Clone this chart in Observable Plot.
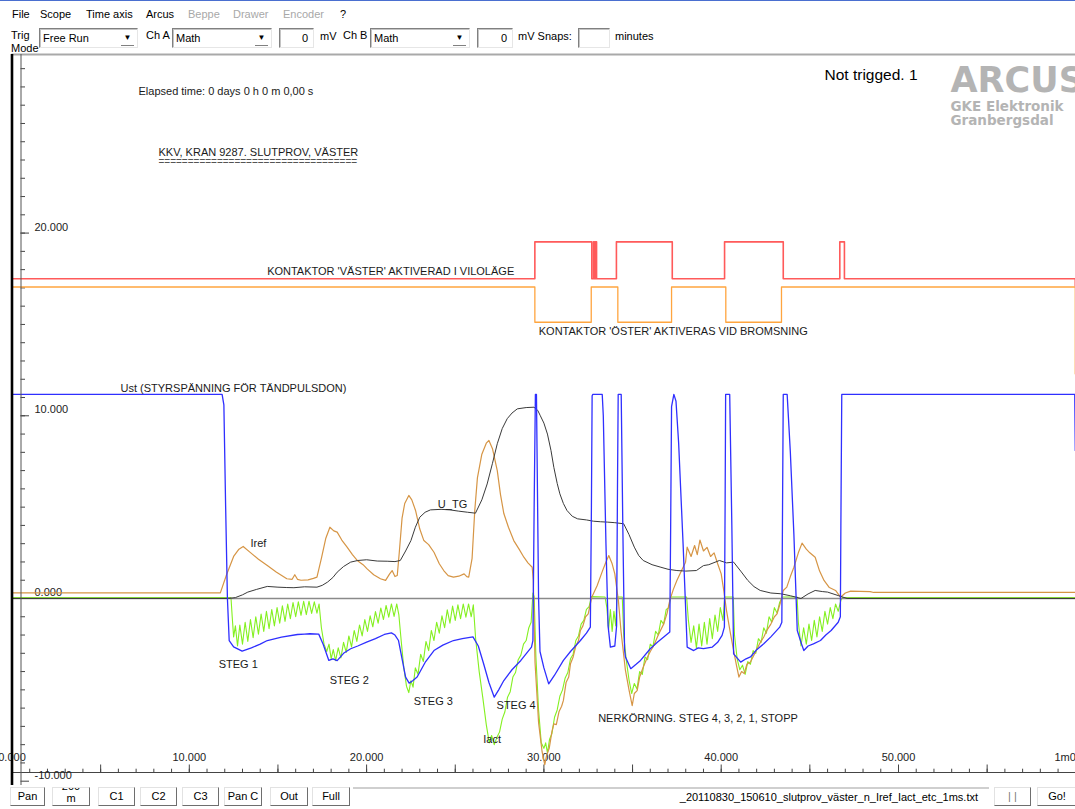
<!DOCTYPE html>
<html><head><meta charset="utf-8">
<script src="https://cdn.jsdelivr.net/npm/d3@7"></script>
<script src="https://cdn.jsdelivr.net/npm/@observablehq/plot@0.6"></script>
<style>
html,body{margin:0;padding:0;background:#fff}
body{width:1075px;height:809px;overflow:hidden;font-family:"Liberation Sans",Arial,sans-serif;font-size:11px;color:#000;position:relative}
#bar{position:relative;height:52px;overflow:hidden;border-top:1px solid #4a6fd0;box-sizing:border-box}
.t{position:absolute;white-space:nowrap;line-height:13px}
.dis{color:#a8a8a8}
.box{position:absolute;box-sizing:border-box;top:27px;height:20px;border-top:1px solid #808080;border-left:1px solid #808080;border-bottom:1px solid #e6e6e6;border-right:1px solid #e6e6e6;box-shadow:inset 1px 1px 0 #c4c4c4;background:#fff;line-height:18px;padding-left:3px;white-space:nowrap}
.arr{position:absolute;right:3px;top:2px;width:13px;height:14px;font-size:8px;text-align:center;line-height:14px;border-bottom:1px solid #808080;color:#000}
.num{text-align:right;padding-right:5px;padding-left:0}
#chart{height:735px;position:relative}
#chart svg{display:block}
#foot{position:relative;height:22px;overflow:hidden}
.btn{position:absolute;top:0;height:19px;box-sizing:border-box;border-top:1px solid #e2e2e2;border-left:1px solid #e2e2e2;border-right:1px solid #6e6e6e;border-bottom:1px solid #6e6e6e;text-align:center;line-height:17px;background:#fff;overflow:hidden;white-space:nowrap}
</style></head>
<body>
<div id="bar">
  <span class="t" style="left:12px;top:7px">File</span>
  <span class="t" style="left:40px;top:7px">Scope</span>
  <span class="t" style="left:86px;top:7px">Time axis</span>
  <span class="t" style="left:146px;top:7px">Arcus</span>
  <span class="t dis" style="left:188px;top:7px">Beppe</span>
  <span class="t dis" style="left:233px;top:7px">Drawer</span>
  <span class="t dis" style="left:283px;top:7px">Encoder</span>
  <span class="t" style="left:340px;top:7px">?</span>
  <span class="t" style="left:11px;top:28px">Trig</span>
  <span class="t" style="left:11px;top:41px">Mode</span>
  <div class="box" style="left:39px;width:99px">Free Run<span class="arr">▼</span></div>
  <span class="t" style="left:146px;top:28px">Ch A</span>
  <div class="box" style="left:172px;width:100px">Math<span class="arr">▼</span></div>
  <div class="box num" style="left:279px;width:35px">0</div>
  <span class="t" style="left:320px;top:29px">mV</span>
  <span class="t" style="left:343px;top:28px">Ch B</span>
  <div class="box" style="left:370px;width:100px">Math<span class="arr">▼</span></div>
  <div class="box num" style="left:477px;width:36px">0</div>
  <span class="t" style="left:518px;top:29px">mV Snaps:</span>
  <div class="box" style="left:578px;width:32px"></div>
  <span class="t" style="left:615px;top:29px">minutes</span>
</div>
<div id="chart"></div>
<div id="foot">
  <div class="btn" style="left:10px;width:35px">Pan</div>
  <div class="btn" style="left:52px;width:38px"><div style="position:absolute;left:0;right:0;top:-8px;line-height:12px">200<br>m</div></div>
  <div class="btn" style="left:98px;width:37px">C1</div>
  <div class="btn" style="left:140px;width:37px">C2</div>
  <div class="btn" style="left:182px;width:37px">C3</div>
  <div class="btn" style="left:224px;width:38px">Pan C</div>
  <div class="btn" style="left:270px;width:38px">Out</div>
  <div class="btn" style="left:312px;width:38px">Full</div>
  <div style="position:absolute;left:353px;top:0;width:636px;height:20px;border-top:2px solid #cfcfcf;box-sizing:border-box"></div>
  <span class="t" style="right:97px;top:4px">_20110830_150610_slutprov_väster_n_Iref_Iact_etc_1ms.txt</span>
  <div class="btn" style="left:994px;width:37px;color:#777">| |</div>
  <div class="btn" style="left:1037px;width:40px">Go!</div>
</div>
<script>
// ---- scale domains (seconds / display units) ----
const xMin = 0, xMax = 60;
const yMin = -9.524, yMax = 29.775;

// ---- axis ticks ----
const xTicksMajor = [0, 10, 20, 30, 40, 50, 60];
const xTickLabels = ["0.000", "10.000", "20.000", "30.000", "40.000", "50.000", "1m0"];
const xTicksMid = [5, 15, 25, 35, 45, 55];
const xTicksMinor = d3.range(0, 61, 1);
const yTicksMajor = [-10, 0, 10, 20];
const yTickLabels = ["-10.000", "0.000", "10.000", "20.000"];
const yTicksMinor = d3.range(-9, 30, 1);

// ---- series: [time s, value] ----
const kontaktorVaster = [[0,17.5],[29.49,19.52],[32.7,17.5],[32.8,19.52],[32.85,17.5],[32.92,19.52],[32.97,17.5],[34.09,19.52],[37.24,17.5],[40.19,19.52],[43.5,17.5],[46.69,19.52],[46.95,17.5],[59.95,17.5],[59.97,17.1],[60,17.1]];
const kontaktorOster = [[0,17.05],[29.49,15.12],[32.67,17.05],[34.17,15.12],[37.2,17.05],[40.26,15.12],[43.4,17.05],[59.95,17.05],[59.97,12.3],[60,12.3]];
const ust = [[0,11.17],[11.85,11.17],[11.95,10.6],[12.05,5.0],[12.15,0.0],[12.25,-2.3],[12.5,-2.65],[12.98,-2.88],[13.5,-2.7],[14.0,-2.5],[14.4,-2.3],[15.2,-2.12],[16.1,-1.97],[16.5,-1.95],[16.8,-1.93],[17.3,-1.95],[17.55,-2.5],[17.87,-3.39],[18.1,-3.3],[18.34,-3.4],[18.7,-3.0],[19.1,-2.75],[19.5,-2.6],[20.0,-2.39],[20.5,-2.2],[21.0,-1.97],[21.4,-1.88],[21.6,-2.0],[21.8,-2.3],[22.0,-3.3],[22.2,-4.3],[22.4,-4.63],[22.6,-4.5],[22.85,-4.3],[23.3,-3.5],[23.8,-2.85],[24.3,-2.55],[24.9,-2.3],[25.4,-2.2],[26.0,-2.1],[26.3,-2.6],[26.6,-3.57],[26.9,-4.6],[27.2,-5.4],[27.45,-5.0],[27.74,-4.49],[28.2,-3.9],[28.7,-3.39],[29.3,-2.66],[29.38,-2.3],[29.45,5.0],[29.52,11.17],[29.58,11.17],[29.7,0.0],[29.78,-2.9],[30.0,-3.8],[30.27,-4.67],[30.6,-4.2],[31.1,-3.39],[31.5,-2.9],[32.06,-2.3],[32.4,-1.9],[32.62,-1.57],[32.68,5.0],[32.72,11.1],[32.76,11.17],[33.29,11.17],[33.35,10.0],[33.5,3.0],[33.62,-1.5],[33.75,-2.66],[34.0,-2.6],[34.1,-1.5],[34.15,6.0],[34.19,11.17],[34.36,11.17],[34.45,4.0],[34.55,-2.8],[34.6,-3.2],[34.9,-3.84],[35.2,-3.6],[35.45,-3.39],[36.0,-2.75],[36.4,-2.4],[36.76,-2.11],[37.1,-1.84],[37.15,4.0],[37.2,10.5],[37.33,11.17],[37.45,10.8],[37.6,8.5],[37.85,3.0],[38.08,-2.66],[38.45,-2.85],[38.7,-2.7],[39.0,-2.74],[39.5,-2.66],[39.8,-2.4],[40.05,-2.02],[40.18,-1.57],[40.22,5.0],[40.25,11.17],[40.48,11.17],[40.6,4.0],[40.7,-3.03],[41.1,-3.48],[41.4,-3.3],[41.65,-3.2],[42.0,-2.8],[42.4,-2.48],[42.8,-2.1],[43.3,-1.57],[43.42,-1.3],[43.46,5.0],[43.5,11.17],[43.72,11.17],[43.9,8.0],[44.1,3.5],[44.29,-1.75],[44.5,-2.4],[44.66,-2.85],[44.9,-2.6],[45.2,-2.48],[45.6,-2.3],[45.9,-2.0],[46.2,-1.75],[46.6,-1.3],[46.72,-1.0],[46.75,4.0],[46.8,11.17],[59.94,11.17],[59.97,8.1]];
const iact = [[0,0.05],[12.35,0.05],[12.42,-1.0],[12.5,-2.1],[12.6,-1.5],[12.72,-2.6],[12.85,-1.45],[13.0,-2.5],[13.15,-1.3],[13.3,-2.35],[13.45,-1.15],[13.6,-2.15],[13.75,-1.0],[13.9,-1.95],[14.05,-0.85],[14.2,-1.8],[14.35,-0.7],[14.5,-1.65],[14.65,-0.6],[14.8,-1.5],[14.95,-0.5],[15.1,-1.35],[15.25,-0.4],[15.4,-1.25],[15.55,-0.3],[15.7,-1.1],[15.85,-0.22],[16.0,-1.0],[16.15,-0.18],[16.3,-0.92],[16.45,-0.15],[16.6,-0.88],[16.75,-0.15],[16.9,-0.82],[17.05,-0.18],[17.2,-0.8],[17.32,-0.3],
[17.45,-1.6],[17.6,-2.5],[17.75,-2.9],[17.88,-2.5],[18.0,-3.3],[18.12,-2.8],[18.25,-3.4],[18.4,-2.7],[18.55,-3.25],[18.7,-2.4],[18.85,-2.95],[19.0,-2.05],[19.15,-2.65],[19.3,-1.75],[19.45,-2.35],[19.6,-1.45],[19.75,-2.05],[19.9,-1.15],[20.05,-1.8],[20.2,-0.95],[20.35,-1.55],[20.5,-0.72],[20.65,-1.35],[20.8,-0.52],[20.95,-1.15],[21.1,-0.38],[21.25,-1.02],[21.4,-0.3],[21.55,-0.98],[21.7,-0.3],[21.82,-0.9],
[21.95,-2.3],[22.1,-3.8],[22.25,-4.8],[22.38,-5.15],[22.5,-4.5],[22.62,-4.85],[22.75,-3.8],[22.9,-4.15],[23.05,-3.05],[23.2,-3.45],[23.35,-2.35],[23.5,-2.85],[23.65,-1.75],[23.8,-2.3],[23.95,-1.3],[24.1,-1.9],[24.25,-0.95],[24.4,-1.6],[24.55,-0.62],[24.7,-1.35],[24.85,-0.42],[25.0,-1.2],[25.15,-0.35],[25.3,-1.1],[25.45,-0.3],[25.6,-1.02],[25.75,-0.3],[25.9,-1.0],[26.02,-0.35],
[26.15,-2.2],[26.35,-4.0],[26.55,-5.4],[26.75,-6.9],[26.92,-7.9],[27.05,-7.5],[27.2,-8.0],[27.35,-7.6],[27.5,-7.3],[27.65,-6.6],[27.8,-6.2],[27.95,-5.4],[28.1,-5.1],[28.25,-4.3],[28.4,-4.05],[28.55,-3.35],[28.7,-3.1],[28.85,-2.5],[29.0,-2.3],[29.15,-1.6],[29.28,-1.3],[29.38,0.3],[29.45,0.1],
[29.55,-3.2],[29.7,-6.1],[29.85,-7.9],[30.0,-8.2],[30.1,-7.9],[30.2,-8.45],[30.32,-7.7],[30.45,-7.4],[30.6,-6.5],[30.75,-6.1],[30.9,-5.35],[31.05,-5.0],[31.2,-4.35],[31.35,-4.05],[31.5,-3.3],[31.65,-3.05],[31.8,-2.3],[31.95,-2.05],[32.1,-1.4],[32.25,-1.2],[32.4,-0.6],[32.55,-0.45],[32.68,0.1],[33.45,0.08],
[33.55,-0.5],[33.65,-1.7],[33.75,-0.6],[33.85,-1.8],[33.95,-0.7],[34.05,-1.5],[34.12,0.08],[34.42,0.08],
[34.5,-2.0],[34.65,-3.4],[34.8,-4.45],[34.95,-5.2],[35.1,-4.65],[35.25,-4.95],[35.4,-4.0],[35.55,-4.15],[35.7,-3.2],[35.85,-3.35],[36.0,-2.5],[36.15,-2.65],[36.3,-1.8],[36.45,-2.0],[36.6,-1.2],[36.75,-1.4],[36.9,-0.6],[37.05,-0.5],[37.15,0.08],[38.05,0.08],
[38.15,-1.2],[38.3,-2.4],[38.45,-1.5],[38.6,-2.7],[38.75,-1.4],[38.9,-2.6],[39.05,-1.3],[39.2,-2.5],[39.35,-1.1],[39.5,-2.2],[39.65,-0.9],[39.8,-1.8],[39.95,-0.5],[40.1,-1.2],[40.2,0.08],[40.68,0.08],
[40.75,-2.0],[40.9,-3.3],[41.05,-3.9],[41.2,-3.65],[41.35,-4.15],[41.5,-3.45],[41.65,-3.6],[41.8,-2.85],[41.95,-3.0],[42.1,-2.2],[42.25,-2.4],[42.4,-1.6],[42.55,-1.9],[42.7,-1.0],[42.85,-1.3],[43.0,-0.5],[43.15,-0.8],[43.3,-0.2],[43.45,0.08],[44.28,0.08],
[44.35,-1.3],[44.5,-2.6],[44.65,-1.6],[44.8,-2.5],[44.95,-1.4],[45.1,-2.3],[45.25,-1.2],[45.4,-2.1],[45.55,-1.0],[45.7,-1.8],[45.85,-0.7],[46.0,-1.4],[46.15,-0.5],[46.3,-1.1],[46.45,-0.3],[46.6,-0.7],[46.75,-0.1],[46.85,0.05],[60,0.05]];
const iref = [[0,0.31],[11.75,0.31],[12.1,1.3],[12.5,2.3],[12.8,2.7],[13.04,2.85],[13.4,2.55],[13.9,2.15],[14.4,1.8],[14.9,1.45],[15.5,1.08],[15.8,1.05],[15.95,1.3],[16.1,1.05],[16.3,1.0],[16.7,1.02],[17.0,1.1],[17.2,1.17],[17.45,2.2],[17.7,3.3],[17.93,3.9],[18.15,3.7],[18.34,3.63],[18.6,3.2],[18.9,2.81],[19.2,2.4],[19.47,2.08],[19.8,1.85],[20.03,1.62],[20.4,1.3],[20.78,1.08],[21.07,0.99],[21.3,1.35],[21.44,1.53],[21.6,1.2],[21.73,1.26],[21.85,2.6],[22.0,4.4],[22.15,5.2],[22.38,5.64],[22.55,5.4],[22.76,4.82],[23.0,3.8],[23.23,3.17],[23.5,2.95],[23.8,2.53],[24.1,1.9],[24.35,1.53],[24.6,1.25],[24.9,1.17],[25.2,1.22],[25.5,1.35],[25.65,1.2],[25.76,1.17],[25.95,2.2],[26.1,4.8],[26.25,6.6],[26.5,7.9],[26.75,8.5],[26.9,8.65],[27.1,8.2],[27.37,7.0],[27.55,5.7],[27.74,4.65],[28.0,3.9],[28.3,3.17],[28.6,2.7],[28.87,2.26],[29.1,1.95],[29.34,1.71],[29.4,0.99],[29.5,-3.5],[29.7,-6.8],[29.9,-8.4],[30.05,-9.1],[30.15,-8.6],[30.3,-8.2],[30.45,-7.3],[30.56,-6.86],[30.7,-6.9],[30.85,-6.2],[31.0,-5.9],[31.1,-5.58],[31.25,-4.6],[31.4,-4.3],[31.5,-3.57],[31.65,-3.2],[31.8,-2.6],[31.95,-2.3],[32.06,-1.75],[32.2,-1.5],[32.35,-1.0],[32.5,-0.84],[32.7,0.07],[33.0,0.7],[33.3,1.5],[33.5,2.0],[33.66,2.35],[33.85,1.9],[34.0,1.35],[34.2,-0.1],[34.35,-1.8],[34.6,-3.94],[34.8,-5.0],[34.98,-5.86],[35.1,-5.2],[35.26,-5.04],[35.4,-4.3],[35.6,-3.76],[35.8,-3.3],[36.0,-2.9],[36.2,-2.57],[36.45,-2.0],[36.76,-1.39],[36.95,-0.8],[37.1,-0.1],[37.3,0.5],[37.5,0.99],[37.75,1.5],[37.99,1.99],[38.08,2.81],[38.3,2.3],[38.5,2.9],[38.65,2.4],[38.8,3.2],[39.0,2.6],[39.2,2.8],[39.4,2.3],[39.6,2.5],[39.8,1.9],[40.0,1.35],[40.15,0.4],[40.3,-0.66],[40.5,-1.8],[40.7,-2.85],[40.85,-3.6],[41.0,-4.3],[41.15,-4.0],[41.3,-4.1],[41.45,-3.6],[41.65,-3.48],[41.9,-3.0],[42.15,-2.5],[42.4,-2.11],[42.6,-1.7],[42.8,-1.4],[43.0,-1.0],[43.15,-0.84],[43.35,-0.2],[43.5,0.44],[43.7,0.62],[43.9,1.2],[44.1,1.71],[44.35,2.5],[44.56,3.03],[44.8,2.7],[45.0,2.5],[45.3,2.26],[45.55,1.5],[45.8,0.99],[46.1,0.6],[46.45,0.44],[46.73,0.07],[47.0,0.3],[47.3,0.4],[48.4,0.38],[48.6,0.33],[60,0.33]];
const uTG = [[0,0],[12.2,0],[12.6,0.05],[13.0,0.2],[13.3,0.35],[13.8,0.5],[14.4,0.66],[15.0,0.62],[15.5,0.6],[15.9,0.59],[16.5,0.64],[17.2,0.62],[17.5,0.72],[17.8,0.9],[18.1,1.15],[18.34,1.44],[18.7,1.75],[19.1,1.99],[19.5,2.08],[20.0,2.12],[20.6,2.05],[21.16,2.04],[21.6,2.02],[21.9,2.08],[22.2,2.6],[22.5,3.17],[22.75,3.9],[23.0,4.45],[23.3,4.72],[23.6,4.85],[24.2,4.88],[24.7,4.85],[25.2,4.78],[25.7,4.72],[26.14,4.67],[26.5,5.4],[26.8,6.27],[27.1,7.4],[27.37,8.47],[27.65,9.3],[27.93,9.84],[28.2,10.15],[28.5,10.38],[29.0,10.45],[29.44,10.47],[29.65,10.3],[29.8,10.0],[30.0,9.6],[30.2,9.0],[30.4,8.1],[30.56,7.18],[30.75,6.3],[30.9,5.73],[31.1,5.2],[31.3,4.82],[31.6,4.5],[31.9,4.36],[32.4,4.3],[32.8,4.23],[33.2,4.2],[33.6,4.18],[34.0,4.15],[34.5,4.09],[34.8,3.5],[35.1,2.81],[35.35,2.35],[35.6,2.08],[36.1,1.85],[36.6,1.71],[37.0,1.6],[37.5,1.53],[38.0,1.5],[38.6,1.53],[39.0,1.8],[39.3,1.85],[39.9,2.08],[40.3,1.95],[40.7,1.99],[41.1,1.5],[41.5,0.99],[41.85,0.65],[42.2,0.44],[42.8,0.3],[43.35,0.26],[43.9,0.15],[44.5,0.0],[44.9,0.25],[45.3,0.44],[45.7,0.38],[46.0,0.35],[46.6,0.16],[47.1,0.0],[60,0]];

// ---- annotations (anchored in data units) ----
const labelText = ["KONTAKTOR 'VÄSTER' AKTIVERAD I VILOLÄGE", "KONTAKTOR 'ÖSTER' AKTIVERAS VID BROMSNING", "Ust (STYRSPÄNNING FÖR TÄNDPULSDON)", "Iref", "U_TG", "STEG 1", "STEG 2", "STEG 3", "STEG 4", "Iact", "NERKÖRNING. STEG 4, 3, 2, 1, STOPP"];
const labelX = [14.39, 29.71, 6.12, 13.45, 24.02, 11.66, 17.92, 22.66, 27.33, 26.58, 33.06];
const labelY = [17.9, 14.63, 11.51, 3.03, 5.15, -3.63, -4.49, -5.62, -5.86, -7.73, -6.59];
const headerText = ["Elapsed time: 0 days 0 h 0 m 0,00 s", "KKV, KRAN 9287. SLUTPROV, VÄSTER", "=================================="];
const statusText = "Not trigged. 1";
const logoText = ["ARCUS", "GKE Elektronik", "Granbergsdal"];

const pts = a => a.map(([t, v]) => ({t, v}));
const line = (a, o) => Plot.line(pts(a), {x: "t", y: "v", ...o});
const font = '"Liberation Sans", Arial, sans-serif';
const hdr = (txt, dx, dy, o = {}) => Plot.text([txt], {text: d => d, frameAnchor: "top-left", lineAnchor: "middle", textAnchor: "start", dx, dy, fill: "#1a1a1a", ...o});

const chart = Plot.plot({
  width: 1075, height: 735,
  marginTop: 2, marginRight: 0, marginBottom: 15, marginLeft: 20.5,
  x: {domain: [xMin, xMax], range: [11.5, 1075.3], label: null},
  y: {domain: [yMin, yMax], label: null},
  style: {fontFamily: font, fontSize: "11px", background: "#fff", color: "#000", overflow: "hidden"},
  marks: [
    Plot.ruleY([yMax], {x1: xMin, x2: xMax, stroke: "#a9a9a9", strokeWidth: 2}),
    // axes
    Plot.axisY(yTicksMinor, {anchor: "left", tickSize: -4.5, tickFormat: () => "", stroke: "#444", label: null}),
    Plot.axisY(yTicksMajor, {anchor: "left", tickSize: -8.5, tickFormat: () => "", stroke: "#444", label: null}),
    Plot.axisX(xTicksMinor, {anchor: "bottom", tickSize: -3.3, tickFormat: () => "", stroke: "#444", label: null}),
    Plot.axisX([...xTicksMid, ...xTicksMajor], {anchor: "bottom", tickSize: -7.5, tickFormat: () => "", stroke: "#444", label: null}),
    Plot.ruleY([yMin], {x1: xMin, x2: xMax, stroke: "#444", strokeWidth: 1.2}),
    Plot.text(yTicksMajor, {y: d => d, text: (d, i) => yTickLabels[i], frameAnchor: "left", lineAnchor: "middle", textAnchor: "start", dx: 13.5, dy: -6, fill: "#222"}),
    Plot.text(xTicksMajor.slice(0, 6), {x: d => d, text: (d, i) => xTickLabels[i], frameAnchor: "bottom", lineAnchor: "middle", dy: -15, fill: "#222"}),
    Plot.text(xTicksMajor.slice(6), {x: d => d, text: () => xTickLabels[6], frameAnchor: "bottom", lineAnchor: "middle", textAnchor: "end", dy: -15, fill: "#222"}),
    // header texts
    hdr(headerText[0], 117.5, 37),
    hdr(headerText[1], 137.5, 98),
    hdr(headerText[2], 137.5, 107.5, {fontSize: 10, fill: "#555"}),
    hdr(statusText, 803.5, 21, {fontSize: 15.5, fill: "#000"}),
    hdr(logoText[0], 929.5, 26, {fontSize: 35, fontWeight: "bold", fontFamily: "DejaVu Sans", fill: "#b4b4b4"}),
    hdr(logoText[1], 929.5, 52.5, {fontSize: 13.5, fontWeight: "bold", fontFamily: "DejaVu Sans", fill: "#b4b4b4"}),
    hdr(logoText[2], 929.5, 66, {fontSize: 13.5, fontWeight: "bold", fontFamily: "DejaVu Sans", fill: "#b4b4b4"}),
    // series
    line(kontaktorVaster, {stroke: "#ff5a5a", strokeWidth: 1.6, curve: "step-after"}),
    line(kontaktorOster, {stroke: "#ffa53f", strokeWidth: 1.3, curve: "step-after"}),
    line(iact, {stroke: "#84f020", strokeWidth: 1.1}),
    Plot.ruleY([0], {x1: xMin, x2: xMax, stroke: "#8a8a8a", strokeWidth: 1.6}),
    line(iref, {stroke: "#d69545", strokeWidth: 1.2}),
    line(uTG, {stroke: "#3a3a3a", strokeWidth: 1}),
    line(ust, {stroke: "#2f2fff", strokeWidth: 1.3}),
    // series labels
    Plot.text(labelText, {x: (d, i) => labelX[i], y: (d, i) => labelY[i], text: d => d, textAnchor: "start", fill: "#1a1a1a"}),
    // frame lines at origin
    Plot.ruleX([xMin], {stroke: "#000", strokeWidth: 2.6, insetBottom: -13}),
    Plot.ruleX([xMin], {dx: 9, stroke: "#555", strokeWidth: 1, insetBottom: -13})
  ]
});
document.getElementById("chart").appendChild(chart);
</script>
</body></html>
